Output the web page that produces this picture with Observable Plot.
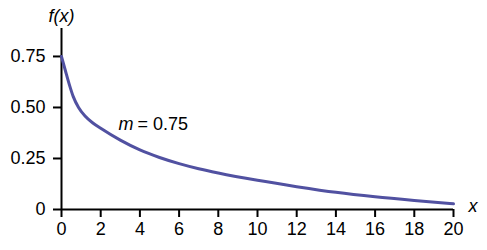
<!DOCTYPE html>
<html>
<head>
<meta charset="utf-8">
<script src="https://cdn.jsdelivr.net/npm/d3@7"></script>
<script src="https://cdn.jsdelivr.net/npm/@observablehq/plot@0.6"></script>
<style>
  html, body { margin: 0; padding: 0; background: white; }
</style>
</head>
<body>
<div id="chart"></div>
<script>
const xValues = [0, 0.2, 0.4, 0.6, 0.87, 1.2, 1.6, 2, 3, 4, 5, 6, 7, 8, 10, 12, 14, 16, 18, 20];
const fValues = [0.75, 0.68, 0.612, 0.553, 0.50, 0.458, 0.424, 0.398, 0.34, 0.292, 0.255, 0.225, 0.2, 0.179, 0.143, 0.112, 0.084, 0.062, 0.044, 0.028];
const xTicks = [0, 2, 4, 6, 8, 10, 12, 14, 16, 18, 20];
const yTicks = [0, 0.25, 0.5, 0.75];
const yTickLabels = ["0", "0.25", "0.50", "0.75"];

const data = xValues.map((x, i) => ({x, y: fValues[i]}));
const FS = 18;

const chart = Plot.plot({
  width: 487,
  height: 250,
  marginLeft: 61,
  marginRight: 34,
  marginTop: 28,
  marginBottom: 41,
  x: {domain: [0, 20]},
  y: {domain: [0, 0.887]},
  style: {fontFamily: "'Liberation Sans', Arial, sans-serif", fontSize: "18px", color: "black", background: "white", overflow: "visible"},
  marks: [
    Plot.axisX({ticks: xTicks, tickSize: 8, tickPadding: 5, strokeWidth: 2, label: null, tickFormat: d => String(d)}),
    Plot.axisY({ticks: yTicks, tickSize: 8, tickPadding: 8, strokeWidth: 2, label: null, tickFormat: d => yTickLabels[yTicks.indexOf(d)]}),
    Plot.ruleX([0], {strokeWidth: 2}),
    Plot.ruleY([0], {strokeWidth: 2}),
    Plot.line(data, {x: "x", y: "y", stroke: "#5151a1", strokeWidth: 3, curve: "monotone-x"}),
    Plot.text(["m"], {x: () => 2.91, y: () => 0.42, text: d => d, textAnchor: "start", fontStyle: "italic", fontSize: FS}),
    Plot.text(["= 0.75"], {x: () => 2.91, y: () => 0.42, text: d => d, textAnchor: "start", dx: 19, fontSize: FS}),
    Plot.text(["f(x)"], {x: () => 0, y: () => 0.887, text: d => d, dy: -12, fontStyle: "italic", fontSize: FS}),
    Plot.text(["x"], {x: () => 20, y: () => 0, text: d => d, textAnchor: "start", dx: 15, dy: -3, fontStyle: "italic", fontSize: FS})
  ]
});
chart.querySelectorAll("text").forEach(t => { t.style.fontSize = FS + "px"; });
chart.querySelectorAll("g").forEach(g => { if (g.getAttribute("font-size")) g.setAttribute("font-size", FS); });
document.getElementById("chart").appendChild(chart);
</script>
</body>
</html>
